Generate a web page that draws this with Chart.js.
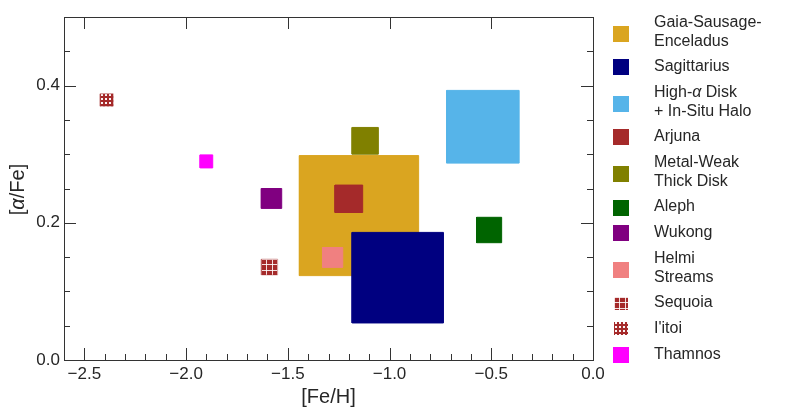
<!DOCTYPE html>
<html>
<head>
<meta charset="utf-8">
<script src="https://cdn.jsdelivr.net/npm/chart.js@4.4.0/dist/chart.umd.min.js"></script>
<style>
body{margin:0;background:#fff;font-family:"Liberation Sans",Arial,sans-serif;}
#wrap{position:relative;width:789px;height:415px;}
#legend{position:absolute;left:613px;top:13px;display:flex;flex-direction:column;gap:7.3px;}
.item{position:relative;padding-left:41px;font-size:16px;line-height:18.5px;color:#262626;white-space:nowrap;}
.box{position:absolute;left:0;top:calc(50% - 7.2px);width:16px;height:16px;}
.item.two .box{top:calc(50% - 5.3px);}
.box.small{left:1px;width:14px;height:13px;top:calc(50% - 6px);}
</style>
</head>
<body>
<div id="wrap">
<canvas id="chart" width="789" height="415"></canvas>
<div id="legend"></div>
</div>
<script>
// groups, drawn in this order (first at the bottom)
const groups=["Gaia-Sausage-Enceladus","Sagittarius","High-α Disk + In-Situ Halo","Arjuna","Metal-Weak Thick Disk","Aleph","Wukong","Helmi Streams","Sequoia","I'itoi","Thamnos"];
const legendText=["Gaia-Sausage-\nEnceladus","Sagittarius","High-α Disk\n+ In-Situ Halo","Arjuna","Metal-Weak\nThick Disk","Aleph","Wukong","Helmi\nStreams","Sequoia","I'itoi","Thamnos"];

// [Fe/H] range of each box
const feLow =[-1.443,-1.184,-0.719,-1.268,-1.184,-0.572,-1.630,-1.329,-1.630,-2.422,-1.931];
const feHigh=[-0.857,-0.735,-0.363,-1.132,-1.055,-0.449,-1.530,-1.230,-1.550,-2.358,-1.869];
// [alpha/Fe] range of each box
const alphaLow =[0.123,0.054,0.287,0.215,0.300,0.171,0.221,0.135,0.124,0.370,0.280];
const alphaHigh=[0.298,0.186,0.393,0.255,0.339,0.208,0.250,0.164,0.147,0.388,0.299];

const xTicks=[-2.5,-2.0,-1.5,-1.0,-0.5,0.0];
const yTicks=[0.0,0.2,0.4];

const colors=["#DAA520","#000080","#56B4E9","#A52A2A","#808000","#006400","#800080","#F08080","#A52A2A","#A52A2A","#FF00FF"];
const hatches=[null,null,null,null,null,null,null,null,"grid","dots",null];

function makeTile(kind,color){
  let c=document.createElement("canvas");
  let x=c.getContext("2d");
  if(kind=="grid"){
    c.width=c.height=16;
    x.fillStyle=color;x.fillRect(0,0,16,16);
    x.fillStyle="rgba(255,255,255,0.85)";
    [0,5,11].forEach(p=>{x.fillRect(0,p,16,1);x.fillRect(p,0,1,16);});
  }else{
    c.width=c.height=4;
    x.fillStyle=color;x.fillRect(0,0,4,4);
    x.fillStyle="rgba(255,255,255,0.95)";
    x.fillRect(1,0,2,2);
  }
  return c;
}

let ctx=document.getElementById("chart").getContext("2d");

let fills=colors.map((c,i)=>hatches[i]?ctx.createPattern(makeTile(hatches[i],c),"repeat"):c);

let datasets=groups.map((g,i)=>({
  label:g,
  data:[
    {x:feLow[i],y:alphaLow[i]},
    {x:feHigh[i],y:alphaLow[i]},
    {x:feHigh[i],y:alphaHigh[i]},
    {x:feLow[i],y:alphaHigh[i]},
    {x:feLow[i],y:alphaLow[i]}
  ],
  showLine:true,
  fill:"shape",
  backgroundColor:fills[i],
  borderColor:hatches[i]?"rgba(165,42,42,0.4)":colors[i],
  borderWidth:1,
  pointRadius:0,
  pointHoverRadius:0,
  order:groups.length-i
}));

function fmt(v){
  return v.toFixed(1).replace("-","\u2212");
}

const font={family:"'Liberation Sans', Arial, sans-serif",size:17};

// line the hatch patterns up with the corner of their box
const patternAlign={
  id:"patternAlign",
  beforeDatasetsDraw(chart){
    hatches.forEach((h,i)=>{
      if(!h) return;
      let px=Math.round(chart.scales.x.getPixelForValue(feLow[i]));
      let py=Math.round(chart.scales.y.getPixelForValue(alphaHigh[i]));
      fills[i].setTransform(new DOMMatrix([1,0,0,1,px,py]));
    });
  }
};

// inward ticks, frame and axis titles
const frame={
  id:"frame",
  afterDatasetsDraw(chart){
    let c=chart.ctx,a=chart.chartArea,x=chart.scales.x,y=chart.scales.y;
    c.save();
    c.strokeStyle="#333";
    c.lineWidth=1;
    c.beginPath();
    for(let i=Math.ceil(x.min*10-1e-6);i<=Math.floor(x.max*10+1e-6);i++){
      let v=i/10,px=Math.round(x.getPixelForValue(v))+0.5;
      let major=Math.abs(v*2-Math.round(v*2))<1e-6;
      let len=major?12:6;
      c.moveTo(px,a.bottom);c.lineTo(px,a.bottom-len);
      if(major){c.moveTo(px,a.top);c.lineTo(px,a.top+len);}
    }
    for(let i=Math.ceil(y.min*20-1e-6);i<=Math.floor(y.max*20+1e-6);i++){
      let v=i/20,py=Math.round(y.getPixelForValue(v))+0.5;
      let major=Math.abs(v*5-Math.round(v*5))<1e-6;
      let len=major?12:6;
      c.moveTo(a.left,py);c.lineTo(a.left+len,py);
      c.moveTo(a.right,py);c.lineTo(a.right-len,py);
    }
    c.stroke();
    c.strokeRect(a.left+0.5,a.top+0.5,a.right-a.left,a.bottom-a.top);

    c.fillStyle="#262626";
    c.textBaseline="middle";
    c.textAlign="center";
    c.font="20px 'Liberation Sans', Arial, sans-serif";
    c.fillText("[Fe/H]",(a.left+a.right)/2,397);

    let parts=[["[",""],["α","italic "],["/Fe]",""]];
    let w=0;
    parts.forEach(p=>{c.font=p[1]+"20px 'Liberation Sans', Arial, sans-serif";w+=c.measureText(p[0]).width;});
    c.translate(18.5,(a.top+a.bottom)/2+1);
    c.rotate(-Math.PI/2);
    c.textAlign="left";
    let pos=-w/2;
    parts.forEach(p=>{
      c.font=p[1]+"20px 'Liberation Sans', Arial, sans-serif";
      c.fillText(p[0],pos,0);
      pos+=c.measureText(p[0]).width;
    });
    c.restore();
  }
};

let chart=new Chart(ctx,{
  type:"scatter",
  data:{datasets:datasets},
  options:{
    responsive:false,
    animation:false,
    events:[],
    layout:{padding:{top:17,right:196,left:0,bottom:0}},
    plugins:{legend:{display:false},tooltip:{enabled:false}},
    scales:{
      x:{
        type:"linear",min:-2.6,max:0,
        afterBuildTicks:s=>{s.ticks=xTicks.map(v=>({value:v}));},
        afterFit:s=>{s.height=55;},
        grid:{display:false,drawTicks:false},
        border:{display:false},
        ticks:{padding:4,color:"#262626",font:font,maxRotation:0,autoSkip:false,callback:v=>fmt(v)}
      },
      y:{
        type:"linear",min:0,max:0.5,
        afterBuildTicks:s=>{s.ticks=yTicks.map(v=>({value:v}));},
        afterFit:s=>{s.width=64;},
        grid:{display:false,drawTicks:false},
        border:{display:false},
        ticks:{padding:4,color:"#262626",font:font,autoSkip:false,callback:v=>fmt(v)}
      }
    }
  },
  plugins:[patternAlign,frame]
});

// legend
let legend=document.getElementById("legend");
legendText.forEach((t,i)=>{
  let d=document.createElement("div");
  d.className="item"+(t.includes("\n")?" two":"");
  let b=document.createElement("span");
  b.className="box"+(hatches[i]?" small":"");
  if(hatches[i]){
    b.style.backgroundImage="url("+makeTile(hatches[i],colors[i]).toDataURL()+")";
  }else{
    b.style.background=colors[i];
  }
  d.appendChild(b);
  let s=document.createElement("span");
  s.innerHTML=t.replace("α","<i>α</i>").replace("\n","<br>");
  d.appendChild(s);
  legend.appendChild(d);
});
</script>
</body>
</html>
